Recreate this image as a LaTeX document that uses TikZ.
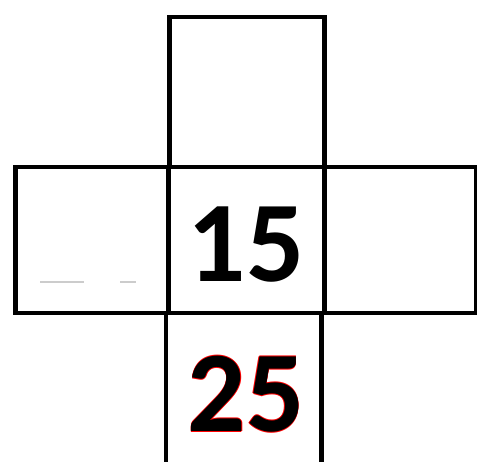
\documentclass[tikz,border=0pt]{standalone}
\usepackage{fontspec}
\setmainfont{Carlito}
\newcommand{\redrim}[1]{%
  \makebox[0pt][l]{\textcolor{red}{%
    \makebox[0pt][l]{\raisebox{0.7pt}{#1}}%
    \makebox[0pt][l]{\raisebox{-0.7pt}{#1}}%
    \makebox[0pt][l]{\hspace{0.7pt}#1}%
    \makebox[0pt][l]{\hspace{-0.7pt}#1}}}%
  #1}
\tikzset{
  cell/.style={draw=black, line width=4.5pt, rectangle, inner sep=0pt, anchor=north west},
  bignum/.style={font=\bfseries\fontsize{115}{115}\selectfont, inner sep=0pt},
  faint/.style={draw=black!20, line width=1.5pt}
}
\begin{document}
\begin{tikzpicture}[x=1pt,y=1pt]
\useasboundingbox (0,0) rectangle (477,462);
% top cell
\node[cell, minimum width=155pt, minimum height=150pt] (top) at (167,447) {};
% middle row
\node[cell, minimum width=153pt, minimum height=146pt] (left) at (13,297) {};
\node[cell, minimum width=156pt, minimum height=146pt] (center) at (166,297) {};
\node[cell, minimum width=152pt, minimum height=146pt] (right) at (322,297) {};
% bottom cell (open at the bottom)
\node[rectangle, inner sep=0pt, anchor=north west, minimum width=155pt, minimum height=155pt] (bottom) at (166,151) {};
\draw[line width=4.5pt] (bottom.north west) -- (bottom.south west);
\draw[line width=4.5pt] (bottom.north east) -- (bottom.south east);
% numbers
\node[bignum] (n15) at (246,217) {15};
\node[bignum] (n25) at (246,68) {\redrim{25}};
% faint marks in the left cell
\coordinate (f1) at (40,180);
\coordinate (f2) at (84,180);
\coordinate (f3) at (120,180);
\coordinate (f4) at (136,180);
\draw[faint] (f1) -- (f2);
\draw[faint] (f3) -- (f4);
\end{tikzpicture}
\end{document}
